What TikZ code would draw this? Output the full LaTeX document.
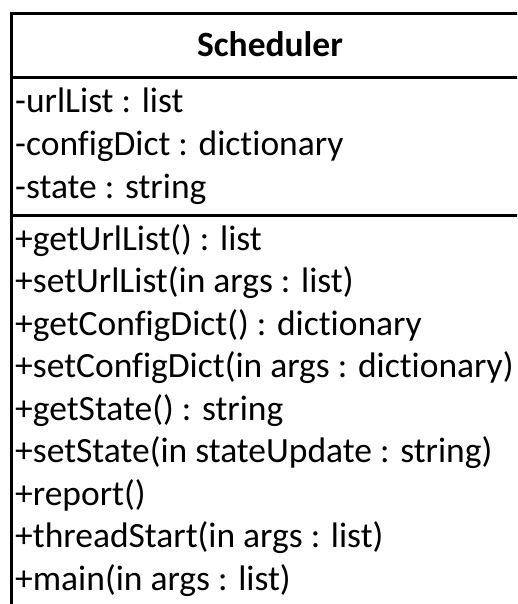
\documentclass[tikz,border=0pt]{standalone}
\usepackage{fontspec}
\setmainfont[Ligatures=NoCommon]{Carlito}
\begin{document}
\begin{tikzpicture}[x=1pt,y=1pt,
  txt/.style={font=\fontsize{35.5}{42}\selectfont},
  rule/.style={line width=3pt, line join=miter},
  row/.style={txt, anchor=base west, inner sep=0pt}]
\useasboundingbox (0,0) rectangle (517,-604);
\clip (0,0) rectangle (517,-604);
\coordinate (tl) at (11.5,-13.5);
\coordinate (tr) at (530,-13.5);
\coordinate (bl) at (11.5,-620);
\coordinate (s1l) at (11.5,-78);
\coordinate (s1r) at (530,-78);
\coordinate (s2l) at (11.5,-215);
\coordinate (s2r) at (530,-215);
\draw[rule] (tr) -- (tl) -- (bl);
\draw[rule] (s1l) -- (s1r);
\draw[rule] (s2l) -- (s2r);
\node[anchor=base, inner sep=0pt, font=\fontsize{35.5}{42}\selectfont\bfseries] (title) at (270,-57) {Scheduler};
\node[row] (a1) at (15,-113) {-urlList : list};
\node[row] (a2) at (15,-155.5) {-configDict : dictionary};
\node[row] (a3) at (15,-198) {-state : string};
\node[row] (m1) at (15,-250) {+getUrlList() : list};
\node[row] (m2) at (15,-292.5) {+setUrlList(in args : list)};
\node[row] (m3) at (15,-335) {+getConfigDict() : dictionary};
\node[row] (m4) at (15,-377.5) {+setConfigDict(in args : dictionary)};
\node[row] (m5) at (15,-420) {+getState() : string};
\node[row] (m6) at (15,-462.5) {+setState(in stateUpdate : string)};
\node[row] (m7) at (15,-505) {+report()};
\node[row] (m8) at (15,-547.5) {+threadStart(in args : list)};
\node[row] (m9) at (15,-590) {+main(in args : list)};
\end{tikzpicture}
\end{document}
